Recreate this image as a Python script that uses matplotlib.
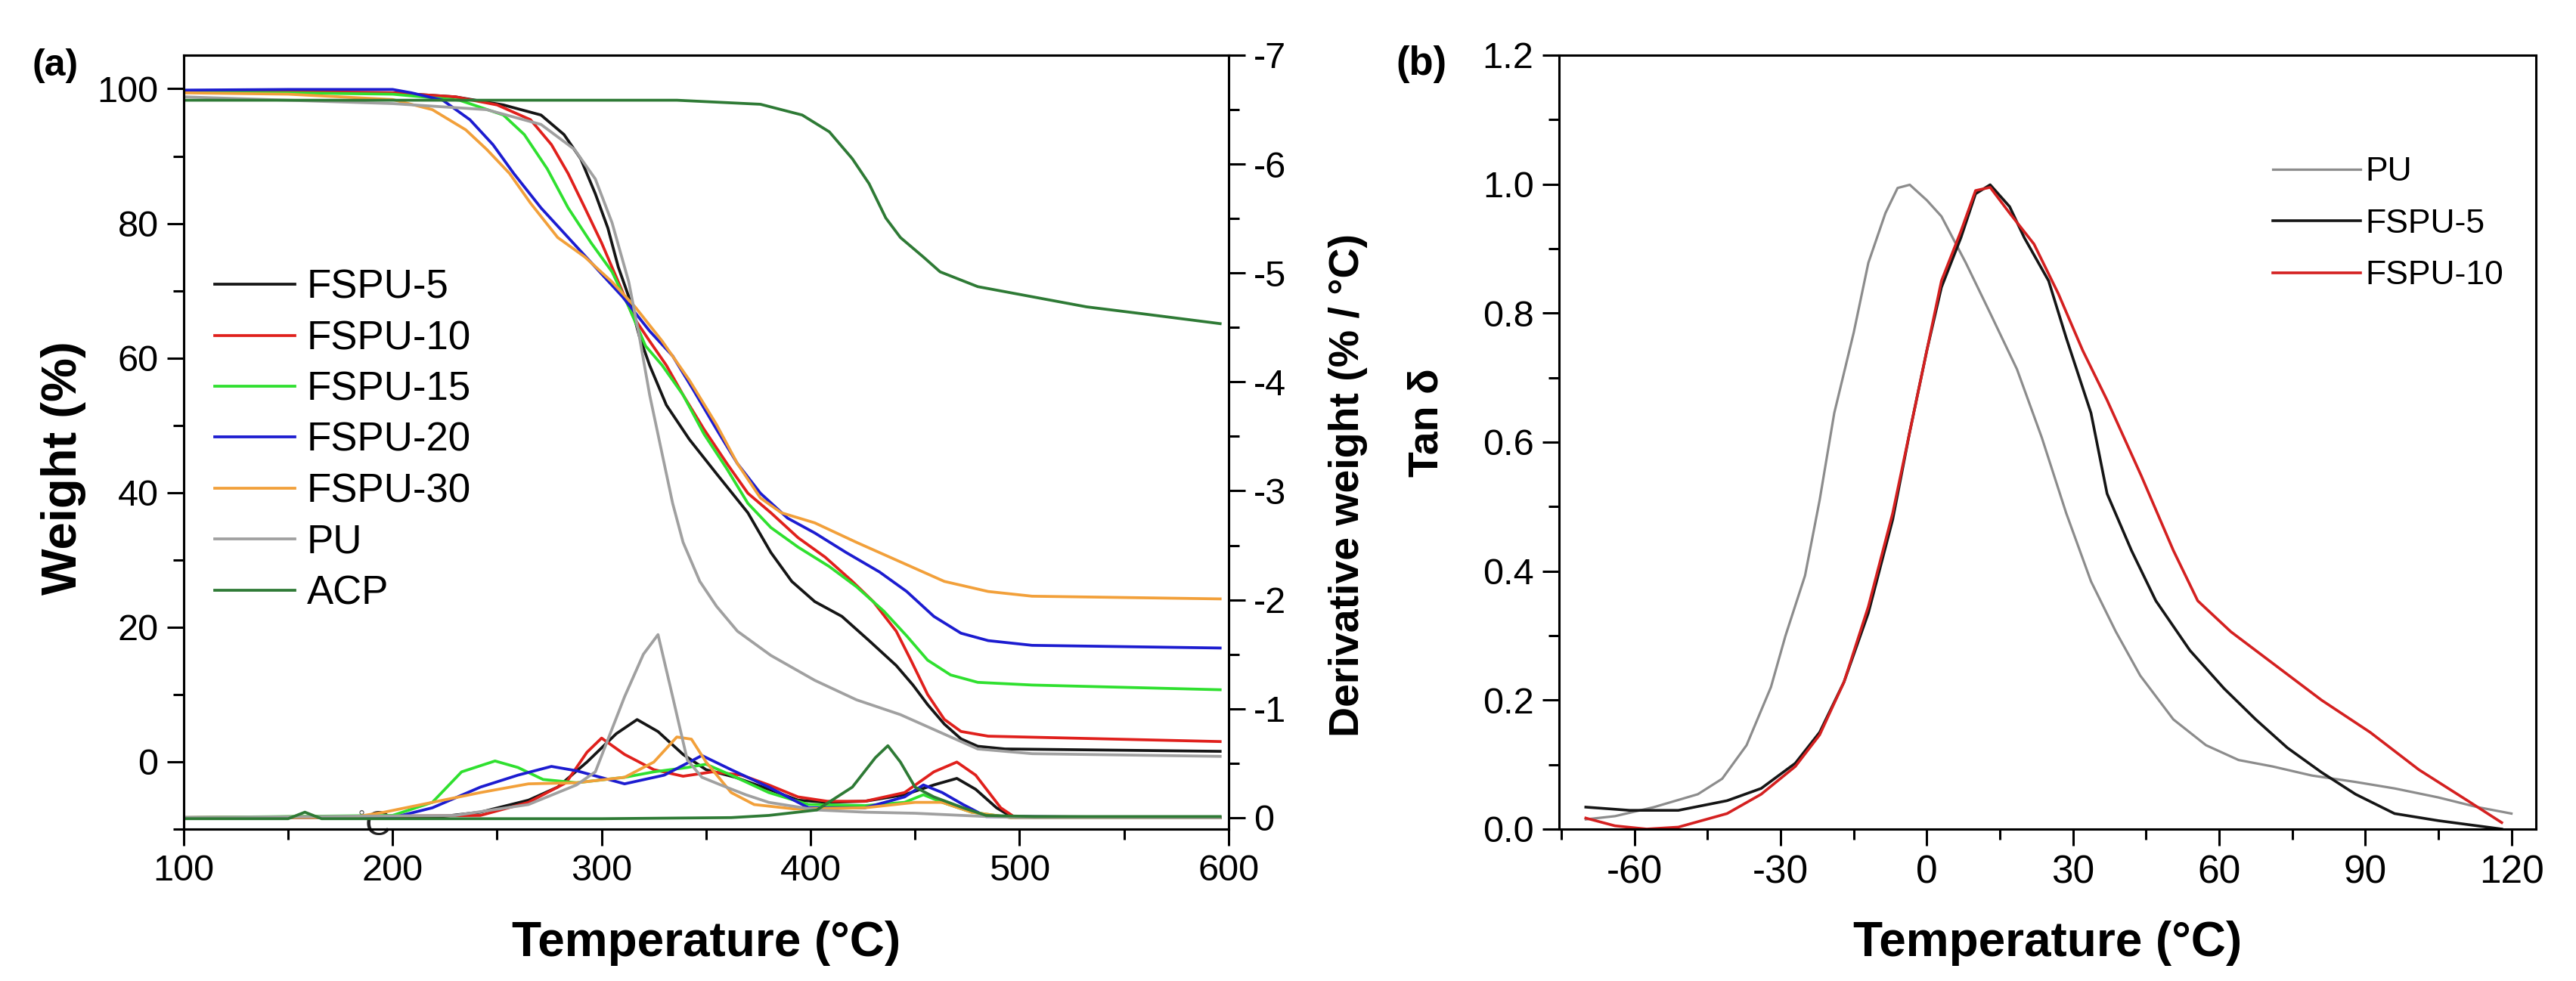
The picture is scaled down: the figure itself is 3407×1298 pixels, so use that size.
import numpy as np
import matplotlib
matplotlib.use("Agg")
import matplotlib.pyplot as plt
from matplotlib.ticker import MultipleLocator, FormatStrFormatter

plt.rcParams['font.family'] = ['Liberation Sans', 'DejaVu Sans']
plt.rcParams['axes.unicode_minus'] = False

# ---- (a) TGA: weight (%) vs temperature ----
t_fspu5 = [100, 150, 200, 230, 253, 271, 282, 290, 297, 303, 308, 313, 318, 323, 331, 342, 355, 370, 381, 391, 402, 415, 428, 441, 449, 456, 464, 472, 480, 493, 596]
w_fspu5 = [99.6, 99.5, 99.4, 98.8, 97.6, 96.1, 93.2, 89.6, 84.4, 79.3, 73.5, 69.1, 63.3, 58.9, 53.0, 47.9, 42.8, 37.0, 31.1, 26.8, 23.8, 21.6, 18.0, 14.3, 11.4, 8.5, 5.6, 3.4, 2.3, 1.9, 1.55]

t_fspu10 = [100, 150, 200, 230, 250, 266, 276, 284, 292, 300, 308, 315, 323, 331, 339, 349, 360, 370, 381, 394, 407, 420, 430, 441, 448, 456, 464, 472, 485, 596]
w_fspu10 = [99.7, 99.6, 99.4, 98.8, 97.6, 95.4, 91.7, 87.4, 82.3, 77.1, 71.3, 66.2, 62.5, 58.9, 54.5, 49.4, 44.3, 39.9, 37.0, 33.3, 30.4, 26.8, 23.8, 19.4, 15.1, 10.0, 6.3, 4.5, 3.8, 3.0]

t_fspu15 = [100, 150, 200, 232, 253, 263, 274, 284, 295, 305, 313, 321, 329, 339, 349, 360, 370, 381, 394, 409, 422, 435, 446, 456, 467, 480, 506, 596]
w_fspu15 = [99.5, 99.4, 99.2, 98.3, 96.1, 93.2, 88.1, 82.3, 77.1, 72.8, 67.6, 61.8, 58.9, 54.5, 48.7, 43.5, 38.4, 34.8, 31.9, 29.0, 26.0, 22.4, 18.7, 15.1, 12.9, 11.8, 11.4, 10.7]

t_fspu20 = [100, 150, 200, 209, 224, 237, 248, 258, 271, 284, 297, 310, 323, 334, 344, 355, 365, 376, 389, 402, 417, 433, 446, 459, 472, 485, 506, 596]
w_fspu20 = [99.8, 99.9, 99.9, 99.4, 98.3, 95.4, 91.7, 87.4, 82.3, 77.9, 73.5, 69.1, 64.0, 60.3, 55.2, 49.4, 44.3, 39.9, 36.2, 34.0, 31.1, 28.2, 25.3, 21.6, 19.1, 18.0, 17.3, 16.9]

t_fspu30 = [100, 150, 200, 219, 235, 245, 256, 266, 279, 292, 305, 316, 329, 342, 355, 365, 376, 386, 402, 422, 443, 464, 485, 506, 596]
w_fspu30 = [99.4, 99.2, 98.4, 96.9, 93.9, 91.0, 87.4, 83.0, 77.9, 75.0, 71.3, 67.6, 62.5, 56.7, 50.1, 44.3, 39.2, 37.0, 35.5, 32.6, 29.7, 26.8, 25.3, 24.6, 24.2]

t_pu = [100, 150, 200, 245, 271, 287, 297, 305, 313, 318, 323, 329, 334, 339, 347, 355, 365, 381, 402, 422, 443, 464, 480, 506, 596]
w_pu = [98.8, 98.3, 97.8, 96.9, 94.7, 91.0, 86.6, 80.1, 71.3, 63.3, 54.5, 45.7, 38.4, 32.6, 26.8, 23.1, 19.4, 15.8, 12.1, 9.2, 7.0, 4.1, 1.9, 1.2, 0.8]

t_acp = [100, 200, 336, 376, 396, 409, 420, 428, 436, 443, 454, 462, 480, 506, 532, 558, 596]
w_acp = [98.3, 98.3, 98.3, 97.7, 96.1, 93.6, 89.6, 85.9, 80.8, 77.9, 75.0, 72.8, 70.6, 69.1, 67.6, 66.6, 65.1]

# ---- (a) DTG: derivative weight (%/°C) ----
dt_fspu5 = [100, 219, 242, 265, 279, 293, 307, 317, 327, 339, 350, 364, 380, 394, 408, 426, 445, 459, 470, 479, 489, 496, 596]
d_fspu5 = [0, 0, -0.05, -0.16, -0.28, -0.51, -0.77, -0.90, -0.79, -0.58, -0.44, -0.37, -0.26, -0.16, -0.14, -0.15, -0.21, -0.30, -0.36, -0.26, -0.09, -0.01, 0]

dt_fspu10 = [100, 242, 265, 283, 293, 300, 311, 325, 339, 353, 367, 380, 394, 408, 426, 445, 459, 470, 479, 491, 498, 596]
d_fspu10 = [0, -0.02, -0.14, -0.32, -0.60, -0.73, -0.58, -0.44, -0.38, -0.42, -0.39, -0.30, -0.19, -0.15, -0.15, -0.23, -0.42, -0.51, -0.39, -0.09, 0, 0]

dt_fspu15 = [100, 200, 219, 233, 249, 260, 272, 288, 311, 325, 341, 350, 362, 380, 399, 426, 445, 454, 463, 477, 496, 596]
d_fspu15 = [0, -0.02, -0.14, -0.42, -0.52, -0.46, -0.35, -0.32, -0.37, -0.42, -0.46, -0.49, -0.39, -0.23, -0.12, -0.11, -0.14, -0.21, -0.14, -0.05, 0, 0]

dt_fspu20 = [100, 200, 219, 242, 260, 276, 288, 311, 330, 348, 362, 380, 399, 426, 445, 454, 463, 473, 484, 596]
d_fspu20 = [0, 0, -0.09, -0.28, -0.39, -0.47, -0.43, -0.31, -0.39, -0.57, -0.44, -0.28, -0.09, -0.09, -0.19, -0.30, -0.23, -0.12, -0.01, 0]

dt_fspu30 = [100, 180, 196, 219, 242, 265, 288, 311, 325, 336, 343, 350, 362, 373, 392, 426, 450, 463, 477, 496, 596]
d_fspu30 = [0, 0, -0.05, -0.14, -0.23, -0.31, -0.32, -0.37, -0.51, -0.74, -0.72, -0.51, -0.23, -0.12, -0.08, -0.09, -0.14, -0.14, -0.05, 0, 0]

dt_pu = [100, 230, 265, 288, 297, 311, 320, 327, 334, 341, 348, 357, 369, 380, 403, 426, 450, 484, 500, 596]
d_pu = [0, -0.02, -0.12, -0.30, -0.42, -1.11, -1.50, -1.68, -1.11, -0.53, -0.37, -0.30, -0.21, -0.14, -0.07, -0.05, -0.04, -0.01, 0, 0]

dt_acp = [100, 150, 158, 166, 175, 300, 362, 380, 403, 420, 431, 437, 443, 450, 459, 473, 484, 507, 596]
d_acp = [0.01, 0.01, -0.05, 0.01, 0.01, 0.01, 0.0, -0.02, -0.07, -0.28, -0.55, -0.66, -0.51, -0.28, -0.19, -0.09, -0.02, -0.01, -0.01]

# ---- (b) DMA: tan delta ----
tb_pu = [-70, -64, -56, -47, -42, -37, -32, -29, -25, -22, -19, -15, -12, -8.5, -6, -3.5, 0, 3, 8, 13, 18.5, 23.6, 28.6, 33.7, 38.8, 43.8, 50.6, 57.3, 64, 71, 79, 88, 96, 105, 113, 120]
tan_pu = [0.015, 0.02, 0.034, 0.054, 0.078, 0.13, 0.22, 0.30, 0.393, 0.51, 0.645, 0.77, 0.878, 0.955, 0.994, 0.999, 0.975, 0.95, 0.878, 0.80, 0.713, 0.607, 0.49, 0.384, 0.306, 0.238, 0.17, 0.13, 0.107, 0.097, 0.083, 0.073, 0.063, 0.049, 0.034, 0.024]

tb_fspu5 = [-70, -61, -51, -41, -34, -27, -22, -17, -12, -7, -3.5, 0, 3, 7, 10, 13, 17, 20, 25, 28.6, 33.7, 37, 42, 47, 54, 61, 67.5, 74, 81, 88, 96, 105, 113, 118]
tan_fspu5 = [0.034, 0.029, 0.029, 0.044, 0.063, 0.102, 0.15, 0.228, 0.335, 0.48, 0.616, 0.742, 0.84, 0.917, 0.985, 0.999, 0.965, 0.917, 0.85, 0.762, 0.645, 0.52, 0.432, 0.354, 0.277, 0.218, 0.17, 0.126, 0.088, 0.054, 0.024, 0.013, 0.005, 0.0]

tb_fspu10 = [-70, -64, -57.5, -51, -41, -34, -27, -22, -17, -12, -7, -3.5, 0, 3, 7, 10, 13, 17, 22, 27, 32, 37, 44, 50.6, 55.6, 62.4, 71, 81, 91, 101, 111, 118]
tan_fspu10 = [0.017, 0.005, 0.0, 0.003, 0.024, 0.054, 0.097, 0.146, 0.228, 0.345, 0.49, 0.616, 0.742, 0.85, 0.927, 0.99, 0.995, 0.955, 0.907, 0.83, 0.742, 0.665, 0.548, 0.432, 0.354, 0.306, 0.257, 0.20, 0.15, 0.092, 0.044, 0.01]

c_black = '#151515'
c_red = '#e0201c'
c_green = '#2fe02f'
c_blue = '#1c1cd0'
c_orange = '#f2a03a'
c_gray = '#a0a0a0'
c_acp = '#2e7a35'

fig = plt.figure(figsize=(34.07, 12.98), dpi=100)
ax1 = fig.add_axes([0.0713, 0.1549, 0.4056, 0.7889])
ax2 = ax1.twinx()
ax3 = fig.add_axes([0.6052, 0.1549, 0.3792, 0.7889])

lw = 2.7
series = [
    ('FSPU-5', t_fspu5, w_fspu5, dt_fspu5, d_fspu5, c_black),
    ('FSPU-10', t_fspu10, w_fspu10, dt_fspu10, d_fspu10, c_red),
    ('FSPU-15', t_fspu15, w_fspu15, dt_fspu15, d_fspu15, c_green),
    ('FSPU-20', t_fspu20, w_fspu20, dt_fspu20, d_fspu20, c_blue),
    ('FSPU-30', t_fspu30, w_fspu30, dt_fspu30, d_fspu30, c_orange),
    ('PU', t_pu, w_pu, dt_pu, d_pu, c_gray),
    ('ACP', t_acp, w_acp, dt_acp, d_acp, c_acp),
]
for name, t, w, dt, d, c in series:
    ax1.plot(t, w, color=c, lw=lw, label=name)
    ax2.plot(dt, d, color=c, lw=lw)

ax1.set_xlim(100, 600)
ax1.set_ylim(-10, 105)
ax2.set_ylim(0.105, -7)
ax1.xaxis.set_major_locator(MultipleLocator(100))
ax1.xaxis.set_minor_locator(MultipleLocator(50))
ax1.yaxis.set_major_locator(MultipleLocator(20))
ax1.yaxis.set_minor_locator(MultipleLocator(10))
ax2.yaxis.set_major_locator(MultipleLocator(1))
ax2.yaxis.set_minor_locator(MultipleLocator(0.5))
ax1.set_yticks([0, 20, 40, 60, 80, 100])

for a in (ax1, ax2, ax3):
    for s in a.spines.values():
        s.set_linewidth(2.2)
    a.tick_params(which='major', direction='out', length=16, width=2.2)
    a.tick_params(which='minor', direction='out', length=10, width=2.2)

ax1.tick_params(axis='both', labelsize=35, top=False, right=False, pad=8)
ax2.tick_params(axis='y', labelsize=35, pad=8)

ax1.set_xlabel('Temperature (°C)', fontsize=46, fontweight='bold')
ax1.set_ylabel('Weight (%)', fontsize=47, fontweight='bold')
ax2.set_ylabel('Derivative weight (% / °C)', fontsize=40, fontweight='bold')
ax1.xaxis.set_label_coords(0.5, -0.118)
ax1.yaxis.set_label_coords(-0.093, 0.467)
ax2.yaxis.set_label_coords(1.096, 0.444)

ax1.legend(loc='center left', bbox_to_anchor=(0.03, 0.502), frameon=False,
           fontsize=38, handlelength=2.0, handletextpad=0.3, labelspacing=0.33,
           borderpad=0, borderaxespad=0)

ax1.text(185, -8.3, '°', fontsize=16, color='#555555', ha='center', va='center')
ax1.text(193, -9.6, 'C', fontsize=34, color='#222222', ha='center', va='center')

fig.text(73 / 3407, 1 - 87 / 1298, '(a)', fontsize=36, fontweight='bold', ha='center', va='center')

# ---- (b) ----
ax3.plot(tb_pu, tan_pu, color='#8c8c8c', lw=2.3, label='PU')
ax3.plot(tb_fspu5, tan_fspu5, color=c_black, lw=2.6, label='FSPU-5')
ax3.plot(tb_fspu10, tan_fspu10, color='#d42020', lw=2.6, label='FSPU-10')
ax3.set_xlim(-75.5, 125)
ax3.set_ylim(0, 1.2)
ax3.xaxis.set_major_locator(MultipleLocator(30))
ax3.xaxis.set_minor_locator(MultipleLocator(15))
ax3.yaxis.set_major_locator(MultipleLocator(0.2))
ax3.yaxis.set_minor_locator(MultipleLocator(0.1))
ax3.set_xticks([-60, -30, 0, 30, 60, 90, 120])
ax3.yaxis.set_major_formatter(FormatStrFormatter('%.1f'))
ax3.tick_params(axis='x', labelsize=37, pad=8)
ax3.tick_params(axis='y', labelsize=35, pad=8)
ax3.tick_params(top=False, right=False, which='both')
ax3.set_xlabel('Temperature (°C)', fontsize=46, fontweight='bold')
ax3.set_ylabel('Tan δ', fontsize=40, fontweight='bold')
ax3.xaxis.set_label_coords(0.5, -0.118)
ax3.yaxis.set_label_coords(-0.115, 0.525)
ax3.legend(loc='center left', bbox_to_anchor=(0.731, 0.782), frameon=False,
           fontsize=32, handlelength=2.6, handletextpad=0.15, labelspacing=0.62,
           borderpad=0, borderaxespad=0)

fig.text(1880 / 3407, 1 - 85 / 1298, '(b)', fontsize=38, fontweight='bold', ha='center', va='center')

fig.savefig('out.png', dpi=100)
